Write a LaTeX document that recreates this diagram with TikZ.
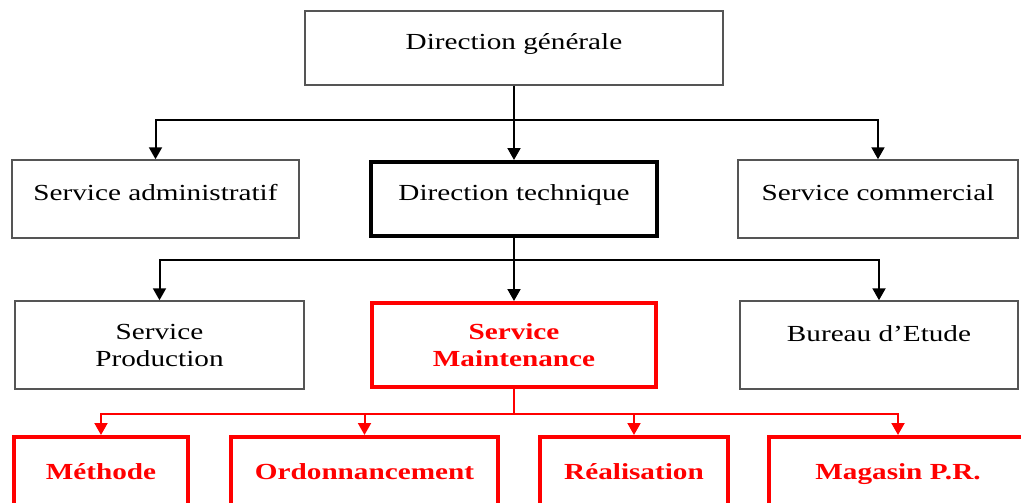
\documentclass[tikz,border=0pt]{standalone}
\usepackage{fontspec}
\setmainfont{Liberation Serif}[FakeStretch=1.27]
\usetikzlibrary{arrows.meta,positioning,calc}
\definecolor{boxgray}{RGB}{85,85,85}
\definecolor{mainred}{RGB}{255,0,0}

\begin{document}
\begin{tikzpicture}[x=1pt, y=-1pt,
        box/.style={rectangle, draw=boxgray, line width=1.5pt, align=center, inner sep=0pt, font=\fontsize{23}{27}\selectfont},
        keybox/.style={box, draw=black, line width=4pt},
        redbox/.style={box, draw=mainred, line width=4pt, text=mainred, font=\fontsize{23}{27}\selectfont\bfseries},
        unitbox/.style={redbox, text height=19pt, text depth=3pt, minimum height=69},
        oneline/.style={text depth=13pt},
        arrow/.style={-{Triangle[length=12pt,width=13pt]}, line width=2pt},
        redarrow/.style={arrow, draw=mainred}
    ]
        \clip (0,0) rectangle (1021,503);

        % Top
        \node[box, oneline, minimum width=418, minimum height=74] (dg) at (514,48) {Direction générale};

        % Second level
        \node[box, oneline, minimum width=287, minimum height=78] (admin) at (155.5,199) {Service administratif};
        \node[keybox, oneline, minimum width=286, minimum height=74] (dt) at (514,199) {Direction technique};
        \node[box, oneline, minimum width=280, minimum height=78] (comm) at (878,199) {Service commercial};

        % Third level
        \node[box, minimum width=289, minimum height=88] (prod) at (159.5,345) {Service\\Production};
        \node[redbox, minimum width=284, minimum height=84] (maint) at (514,345) {Service\\Maintenance};
        \node[box, oneline, text depth=22pt, minimum width=278, minimum height=88] (etude) at (879,345) {Bureau d'Etude};

        % Maintenance units
        \node[unitbox, minimum width=174] (meth) at (101,471.5) {Méthode};
        \node[unitbox, minimum width=267] (ordo) at (364.5,471.5) {Ordonnancement};
        \node[unitbox, minimum width=188] (real) at (634,471.5) {Réalisation};
        \node[unitbox, minimum width=259] (mag) at (898,471.5) {Magasin P.R.};

        % Junctions
        \coordinate (j1) at (514,120);
        \coordinate (j2) at (514,260);
        \coordinate (j3) at (514,414);

        % Arrows
        \draw[arrow] (dg) -- (dt);
        \draw[arrow] (j1) -| (admin);
        \draw[arrow] (j1) -| (comm);
        \draw[arrow] (dt) -- (maint);
        \draw[arrow] (j2) -| (prod);
        \draw[arrow] (j2) -| (etude);
        \draw[mainred, line width=2pt] (maint.south) -- (j3);
        \draw[redarrow] (j3) -| (meth);
        \draw[redarrow] (j3) -| (ordo);
        \draw[redarrow] (j3) -| (real);
        \draw[redarrow] (j3) -| (mag);
    \end{tikzpicture}
\end{document}
